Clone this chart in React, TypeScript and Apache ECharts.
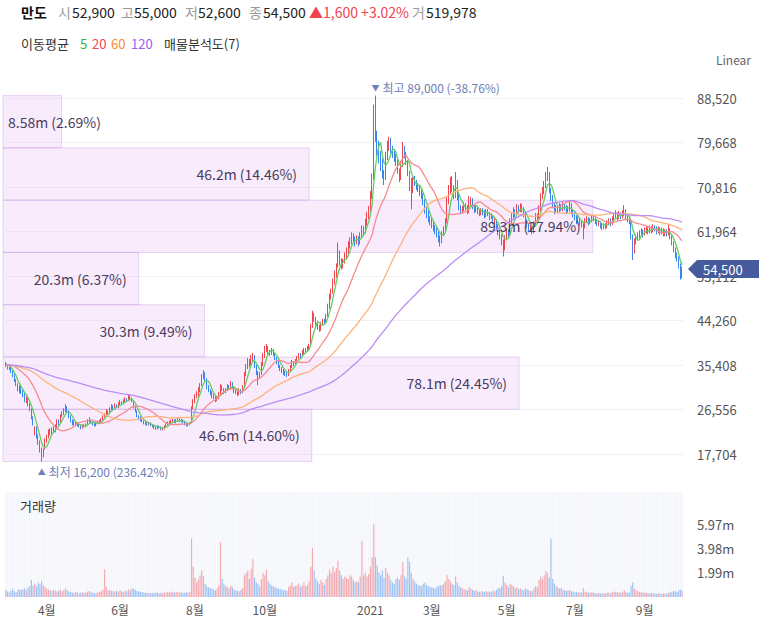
import React, { useEffect, useRef } from 'react';
import * as echarts from 'echarts';

// ---- DATA ----
const stockName = '만도';
const lastVolume = 519978;

// daily candles [open, close, low, high] in units of 100 won
const ohlc: number[][] = [
[356,354,350,360],[352,348,345,356],[346,352,344,354],[350,340,338,351],[342,333,330,345],[334,322,320,336],[320,318,312,326],[316,305,302,318],[302,310,298,314],[310,300,296,312],
[298,296,290,304],[296,284,280,298],[282,288,278,292],[286,276,272,290],[272,268,262,278],[266,250,246,268],[248,238,234,252],[220,228,214,232],[226,214,208,232],[210,200,195,216],
[198,186,180,204],[180,172,162,190],[174,185,170,188],[188,205,186,208],[206,210,200,215],[212,222,208,226],[224,218,214,228],[216,226,212,230],[228,224,220,232],[222,232,220,236],
[234,240,230,246],[242,238,234,246],[240,252,238,256],[254,258,250,262],[258,262,254,268],[264,270,260,276],[270,262,258,272],[262,250,248,264],[250,243,240,254],[244,238,234,246],
[236,240,234,244],[240,235,232,242],[234,237,232,240],[236,232,230,238],[232,230,226,234],[230,234,228,236],[234,232,230,236],[232,236,230,238],[236,242,234,246],[242,245,240,250],
[244,240,238,246],[240,236,234,242],[236,234,232,238],[234,238,232,240],[238,240,236,243],[240,242,238,245],[242,246,240,248],[246,252,244,254],[252,256,250,258],[256,262,254,266],
[262,258,256,264],[258,266,256,270],[266,272,264,276],[272,268,264,274],[268,274,266,278],[274,270,268,276],[270,276,268,280],[276,280,274,284],[280,278,274,282],[278,282,276,286],
[282,286,280,290],[286,284,280,288],[284,290,282,294],[290,288,284,295],[288,282,280,290],[280,270,268,282],[270,262,260,272],[262,252,250,264],[252,248,244,254],[248,246,242,252],
[246,242,240,248],[242,240,236,244],[240,238,235,242],[238,236,233,240],[236,238,234,241],[238,234,232,240],[234,232,230,236],[232,230,227,234],[230,228,225,232],[228,232,226,234],
[232,230,228,234],[230,226,224,232],[226,228,224,231],[228,232,226,234],[232,236,230,238],[236,240,234,242],[240,238,236,243],[238,242,236,245],[242,244,240,247],[244,240,238,246],
[240,244,238,246],[244,246,242,249],[246,242,240,248],[242,245,240,247],[244,240,238,246],[240,236,234,242],[236,234,232,238],[234,236,232,238],[236,238,234,240],[240,268,238,272],
[270,280,266,286],[282,290,278,296],[292,296,288,302],[296,305,292,310],[306,312,300,318],[314,330,312,336],[332,338,326,344],[338,326,322,340],[324,310,306,328],[310,304,300,314],
[304,298,294,306],[298,292,288,302],[292,290,286,296],[290,284,280,292],[284,288,282,292],[288,296,286,300],[296,310,294,316],[310,306,302,314],[306,300,296,308],[300,304,298,308],
[304,312,302,316],[312,308,304,314],[308,318,306,322],[318,310,306,320],[310,302,298,312],[302,300,296,306],[300,296,292,302],[296,304,294,308],[304,300,296,306],[300,310,298,314],
[312,336,310,340],[336,350,332,356],[350,362,346,368],[362,356,350,366],[356,368,354,374],[368,372,362,378],[372,352,348,374],[350,340,334,354],[340,328,314,342],[330,335,326,340],
[336,355,334,360],[356,372,352,378],[372,385,368,392],[386,390,380,396],[390,380,376,392],[380,378,372,384],[378,384,374,388],[384,376,372,386],[376,368,364,378],[368,360,356,370],
[360,352,348,362],[352,346,342,354],[346,344,338,350],[344,340,334,346],[340,336,332,342],[336,334,330,340],[334,342,332,346],[342,350,340,354],[350,360,348,364],[360,356,352,362],
[356,362,354,366],[362,368,360,372],[368,374,366,378],[374,372,368,378],[372,380,370,384],[380,384,376,388],[384,382,378,388],[382,388,380,392],[388,390,384,396],[392,430,390,436],
[432,455,428,462],[455,446,440,458],[446,438,432,450],[438,430,424,442],[430,424,420,434],[424,436,422,440],[436,442,432,446],[442,440,434,446],[440,452,438,456],[452,470,450,476],
[470,490,466,496],[490,500,484,506],[500,520,496,526],[520,535,514,542],[535,550,528,556],[552,575,548,598],[575,560,552,582],[560,552,544,566],[552,560,546,566],[560,572,556,578],
[572,580,566,588],[580,592,574,600],[592,600,586,608],[600,610,594,618],[610,605,598,616],[604,598,590,610],[598,606,594,612],[606,598,590,610],[598,612,594,618],[612,625,606,632],
[625,620,612,630],[620,638,616,645],[638,650,632,658],[650,662,644,670],[662,690,658,700],[690,725,684,735],[728,860,722,872],[860,805,798,890],[805,790,770,820],[790,770,755,800],
[770,760,740,780],[758,735,725,765],[735,725,712,742],[726,770,722,778],[770,790,762,800],[790,800,780,808],[800,782,775,806],[782,775,766,790],[775,768,758,782],[768,760,750,774],
[760,740,735,764],[740,725,718,745],[726,752,722,760],[752,785,748,798],[785,772,765,790],[772,760,752,778],[760,735,730,762],[735,720,700,740],[720,700,664,726],[700,725,696,730],
[725,718,710,730],[718,710,702,722],[710,705,698,716],[705,700,690,712],[700,692,684,704],[692,680,672,696],[680,660,655,684],[660,655,646,668],[655,645,638,662],[645,640,632,650],
[640,635,626,646],[635,628,620,640],[628,622,614,632],[622,618,608,628],[618,608,598,620],[608,600,590,612],[600,615,596,620],[615,625,610,630],[625,640,620,646],[640,680,636,690],
[680,700,674,712],[700,725,694,728],[725,705,698,730],[705,690,684,712],[690,715,686,738],[715,690,682,722],[690,668,662,694],[668,660,654,672],[660,665,656,670],[665,672,660,678],
[672,668,662,676],[668,660,654,672],[660,675,656,690],[675,682,670,688],[682,670,664,686],[670,662,656,674],[662,668,658,672],[668,660,654,670],[660,655,650,664],[655,662,652,666],
[662,658,652,666],[658,652,646,662],[652,660,648,664],[660,655,650,664],[655,648,642,658],[648,650,644,656],[650,640,634,652],[640,642,634,648],[642,630,624,644],[630,620,612,634],
[620,612,604,624],[612,600,592,614],[600,585,570,604],[585,608,582,612],[608,620,602,626],[620,615,608,624],[615,640,612,646],[640,650,635,656],[650,660,644,668],[660,655,648,664],
[655,668,650,674],[668,662,656,672],[662,670,658,676],[670,665,658,674],[665,655,648,668],[655,640,634,658],[640,632,626,644],[632,625,618,636],[625,628,620,634],[628,620,614,632],
[620,635,616,640],[635,650,630,656],[650,648,642,656],[648,665,644,672],[665,690,660,696],[690,700,684,708],[700,712,694,720],[712,728,706,738],[728,735,720,748],[735,700,696,738],
[700,688,680,706],[688,672,666,692],[672,660,654,676],[660,668,656,672],[668,662,656,672],[662,670,658,676],[670,665,660,674],[665,672,660,678],[672,668,662,676],[668,660,654,672],
[660,665,656,670],[665,672,660,680],[672,660,654,676],[660,655,648,664],[655,648,642,658],[648,640,634,652],[640,645,636,650],[645,638,632,648],[638,635,628,642],[610,630,604,636],
[630,640,626,646],[640,645,636,650],[645,638,632,648],[638,642,634,646],[642,648,638,652],[648,645,640,652],[645,640,634,648],[640,635,630,644],[635,638,630,642],[638,632,626,640],
[632,628,622,636],[628,632,624,636],[632,630,624,636],[630,638,626,642],[638,642,634,646],[642,636,630,646],[636,645,632,650],[645,650,640,656],[650,655,646,662],[655,648,642,658],
[648,655,644,660],[655,650,644,658],[650,656,646,662],[656,660,650,672],[660,648,642,664],[648,645,638,652],[645,640,634,648],[640,610,604,642],[610,580,563,614],[580,600,576,606],
[600,608,594,614],[608,612,602,618],[612,618,606,622],[618,620,612,626],[620,615,608,624],[615,622,612,628],[622,625,616,630],[625,620,614,628],[620,626,616,632],[626,622,616,630],
[622,628,618,634],[628,626,620,632],[626,620,614,630],[620,625,616,630],[625,618,612,628],[618,622,614,628],[622,615,610,626],[615,620,610,624],[620,616,610,624],[616,622,612,635],
[622,610,604,626],[610,598,592,612],[598,585,578,600],[585,572,566,588],[572,568,560,578],[568,552,546,570],[552,529,524,556],[529,545,526,550]
];

// daily volume, in units of 10,000 shares
const volumes: number[] = [
60,45,38,52,70,48,40,55,62,58, 65,72,55,80,90,142,95,110,88,120,
105,130,98,85,70,62,55,48,60,52, 45,50,62,48,55,70,58,45,40,38,
35,42,38,30,36,40,33,38,45,50, 40,36,30,34,38,42,48,65,230,85,
55,60,52,48,45,50,42,58,46,40, 52,48,62,55,70,68,58,50,45,42,
40,38,35,32,36,34,30,35,33,38, 30,36,32,40,38,42,35,45,40,38,
42,40,36,38,35,33,40,36,42,485, 250,160,120,145,180,220,175,110,90,80,
75,68,60,55,70,95,455,150,110,90, 85,70,95,80,60,55,50,48,60,75,
180,200,220,150,230,313,160,120,110,90, 150,200,180,224,130,110,95,90,80,75,
70,65,60,55,58,50,80,95,120,85, 90,100,110,85,95,120,90,100,130,250,
406,220,150,130,110,140,120,100,150,180, 230,200,250,210,240,300,220,180,150,170,
160,150,180,170,140,120,130,120,170,464, 180,200,170,190,250,330,600,330,260,200,
180,220,160,240,200,180,140,120,110,150, 160,140,180,290,170,150,330,290,200,150,
130,110,100,95,90,110,120,100,90,85, 80,75,70,85,90,95,100,110,130,180,
150,130,110,100,170,120,90,80,70,65, 60,55,80,70,60,50,55,45,42,48,
45,40,50,42,48,40,55,45,60,70, 75,90,177,120,100,80,110,100,90,70,
80,65,70,60,55,70,65,55,50,48, 70,90,80,140,170,150,180,218,200,160,
484,150,110,90,80,70,75,60,55,50, 55,60,48,45,40,42,38,40,36,70,
45,40,38,35,42,36,32,30,34,28, 30,32,28,35,38,30,40,45,42,36,
38,35,40,55,42,36,38,90,120,70, 55,48,42,40,36,38,35,32,30,34,
30,28,26,30,28,25,30,28,26,35, 40,45,48,50,42,55,60,52
];

// closes before the visible window (100 won units), only used for the moving averages
const priorCloses: number[] = [
360,362,358,355,357,361,364,366,363,360,
358,355,352,350,353,356,359,362,365,368,
370,367,364,361,358,356,359,362,360,357,
354,351,348,350,353,356,358,355,352,349,
347,345,348,351,354,357,360,358,355,352,
350,348,346,349,352,355,353,350,347,345,
343,346,349,352,355,358,356,353,350,348,
346,344,347,350,353,356,359,357,354,351,
349,347,345,348,351,354,357,360,358,355,
352,350,348,351,354,357,359,356,353,350,
348,346,349,352,355,358,361,359,356,353,
351,349,352,355,357,356,358,357,356
];

const monthTickIdx = [24, 67, 111, 152, 214, 250, 294, 334, 375];
const monthTickLabels = ['4월', '6월', '8월', '10월', '2021', '3월', '5월', '7월', '9월'];

// volume profile (매물분석도), bottom bin → top bin
const profileVolumesM = [46.6, 78.1, 30.3, 20.3, 89.3, 46.2, 8.58];
const profilePercents = [14.60, 24.45, 9.49, 6.37, 27.94, 14.46, 2.69];

const maPeriods = [5, 20, 60, 120];
const maLegendColors = ['#33b533', '#f0434f', '#fb8a2e', '#9a5cf5'];
const maLineColors = ['#62cc62', '#f58a8f', '#fdb27a', '#b98cf6'];

const priceTickStep = 8852;
const volumeTickStep = 1990000;

// ---- STYLE ----
const FONT = '"Noto Sans CJK KR", "Noto Sans", sans-serif';
const UP = '#f0464f';
const DOWN = '#3a86f0';
const fmt = (n: number) => Math.round(n).toLocaleString('en-US');

export default function App() {
  const ref = useRef<HTMLDivElement>(null);

  useEffect(() => {
    document.body.style.margin = '0';
    const el = ref.current!;
    const chart = echarts.init(el, null, { renderer: 'svg' });

    const candles = ohlc.map(([o, c, l, h]) => [o * 100, c * 100, l * 100, h * 100]);
    const closes = candles.map((d) => d[1]);
    const allCloses = [...priorCloses.map((v) => v * 100), ...closes];
    const P = priorCloses.length;
    const mas = maPeriods.map((n) =>
      closes.map((_, i) => {
        let s = 0;
        for (let k = P + i - n + 1; k <= P + i; k++) s += allCloses[k];
        return s / n;
      })
    );
    const cats = candles.map((_, i) => String(i));

    let hiIdx = 0, loIdx = 0;
    candles.forEach((d, i) => {
      if (d[3] > candles[hiIdx][3]) hiIdx = i;
      if (d[2] < candles[loIdx][2]) loIdx = i;
    });
    const maxHigh = candles[hiIdx][3];
    const minLow = candles[loIdx][2];
    const last = candles[candles.length - 1];
    const prev = candles[candles.length - 2];
    const lastClose = last[1];
    const diff = lastClose - prev[1];
    const diffPct = (diff / prev[1]) * 100;
    const hiPct = ((lastClose - maxHigh) / maxHigh) * 100;
    const loPct = ((lastClose - minLow) / minLow) * 100;

    const binH = (maxHigh - minLow) / profileVolumesM.length;
    const profileData = profileVolumesM.map((v, k) => [minLow + k * binH, minLow + (k + 1) * binH, v, profilePercents[k]]);

    const volData = volumes.map((v, i) => ({
      value: v * 10000,
      itemStyle: { color: candles[i][1] >= candles[i][0] ? 'rgba(240,70,79,0.42)' : 'rgba(58,134,240,0.45)' },
    }));

    const tickMap = new Map<number, string>();
    monthTickIdx.forEach((i, k) => tickMap.set(i, monthTickLabels[k]));

    const priceGrid = { left: 5, right: 76, top: 53.5, height: 445 };

    const option: any = {
      animation: false,
      grid: [
        priceGrid,
        { left: 5, right: 76, top: 492, height: 105 },
        priceGrid,
      ],
      xAxis: [
        { type: 'category', gridIndex: 0, data: cats, show: false },
        {
          type: 'category', gridIndex: 1, data: cats,
          axisLine: { show: false }, axisTick: { show: false },
          axisLabel: {
            interval: (i: number) => tickMap.has(i),
            formatter: (_v: string, i: number) => tickMap.get(i) ?? '',
            color: '#555', fontSize: 12, fontFamily: FONT, margin: 6,
          },
        },
        { type: 'value', gridIndex: 2, min: 0, max: 103, show: false },
      ],
      yAxis: [
        {
          type: 'value', gridIndex: 0, position: 'right', min: priceTickStep, max: priceTickStep * 11,
          interval: priceTickStep,
          axisLine: { show: false }, axisTick: { show: false },
          splitLine: { show: true, showMinLine: false, showMaxLine: false, lineStyle: { color: '#f1f1f3', width: 1 } },
          axisLabel: {
            margin: 14, color: '#555', fontSize: 13, fontFamily: FONT,
            formatter: (v: number) => (v <= priceTickStep + 1 || v >= priceTickStep * 11 - 1 ? '' : fmt(v)),
          },
        },
        {
          type: 'value', gridIndex: 1, position: 'right', min: 0, max: 8700000, interval: volumeTickStep,
          axisLine: { show: false }, axisTick: { show: false }, splitLine: { show: false },
          axisLabel: {
            margin: 14, color: '#555', fontSize: 13, fontFamily: FONT,
            formatter: (v: number) => (v > 1000000 && v < 6500000 ? (v / 1000000).toFixed(2) + 'm' : ''),
          },
        },
        { type: 'value', gridIndex: 2, min: priceTickStep, max: priceTickStep * 11, show: false },
      ],
      series: [
        {
          type: 'custom', name: 'profileBoxes', xAxisIndex: 2, yAxisIndex: 2, z: 1, silent: true,
          encode: { x: 2, y: [0, 1] },
          data: profileData,
          renderItem: (_p: any, api: any) => {
            const lo = api.value(0), hi = api.value(1), v = api.value(2);
            const a = api.coord([0, hi]);
            const b = api.coord([v, lo]);
            return {
              type: 'rect',
              shape: { x: a[0] - 2, y: a[1], width: b[0] - a[0] + 2, height: b[1] - a[1] },
              style: { fill: 'rgba(222,170,242,0.22)', stroke: 'rgba(196,150,226,0.38)', lineWidth: 1 },
            };
          },
        },
        {
          type: 'candlestick', xAxisIndex: 0, yAxisIndex: 0, data: candles, z: 3, barWidth: '55%',
          itemStyle: { color: UP, color0: DOWN, borderColor: UP, borderColor0: DOWN, borderWidth: 1 },
          markPoint: {
            symbol: 'circle', symbolSize: 0, silent: true,
            data: [
              {
                coord: [hiIdx, maxHigh],
                label: {
                  show: true, position: 'top', distance: 2, align: 'left', offset: [-4, 0],
                  color: '#6f80b6', fontSize: 12, fontFamily: FONT,
                  formatter: `{t|▼}최고 ${fmt(maxHigh)} (${hiPct.toFixed(2)}%)`,
                  rich: { t: { fontSize: 8, color: '#6f80b6', padding: [0, 3, 0, 0] } },
                },
              },
              {
                coord: [loIdx, minLow],
                label: {
                  show: true, position: 'bottom', distance: 4, align: 'left', offset: [-4, 0],
                  color: '#6f80b6', fontSize: 12, fontFamily: FONT,
                  formatter: `{t|▲}최저 ${fmt(minLow)} (${loPct.toFixed(2)}%)`,
                  rich: { t: { fontSize: 8, color: '#6f80b6', padding: [0, 3, 0, 0] } },
                },
              },
            ],
          },
        },
        ...mas.map((d, k) => ({
          type: 'line', xAxisIndex: 0, yAxisIndex: 0, data: d, showSymbol: false, silent: true, z: 4,
          lineStyle: { width: 1.3, color: maLineColors[k] },
        })),
        {
          type: 'custom', name: 'profileLabels', xAxisIndex: 2, yAxisIndex: 2, z: 6, silent: true,
          encode: { x: 2, y: [0, 1] },
          data: profileData,
          renderItem: (_p: any, api: any) => {
            const lo = api.value(0), hi = api.value(1), v = api.value(2), pct = api.value(3);
            const b = api.coord([v, (lo + hi) / 2]);
            const text = `${v}m (${pct.toFixed(2)}%)`;
            const right = b[0] - 12;
            const est = text.length * 6.8;
            const leftAlign = right - est < 8;
            return {
              type: 'text', x: leftAlign ? 8 : right, y: b[1],
              style: {
                text, fill: '#4a3b5c', fontSize: 14, fontFamily: FONT,
                align: leftAlign ? 'left' : 'right', verticalAlign: 'middle',
              },
            };
          },
        },
        {
          type: 'bar', xAxisIndex: 1, yAxisIndex: 1, data: volData, barWidth: '72%', silent: true,
          showBackground: true, backgroundStyle: { color: '#f3f5fa' },
        },
      ],
    };

    chart.setOption(option);

    const yTag = chart.convertToPixel({ yAxisIndex: 0 }, lastClose) as number;

    const headerItems = [
      { x: 21, text: stockName, color: '#111', bold: true },
      { x: 58, text: '시', color: '#9a9a9a' },
      { x: 72, text: fmt(last[0]), color: '#222' },
      { x: 121, text: '고', color: '#9a9a9a' },
      { x: 134, text: fmt(last[3]), color: '#222' },
      { x: 185, text: '저', color: '#9a9a9a' },
      { x: 198, text: fmt(last[2]), color: '#222' },
      { x: 249, text: '종', color: '#9a9a9a' },
      { x: 263, text: fmt(lastClose), color: '#222' },
      { x: 309, text: `${diff >= 0 ? '▲' : '▼'}${fmt(Math.abs(diff))} ${diff >= 0 ? '+' : ''}${diffPct.toFixed(2)}%`, color: '#f0434f' },
      { x: 412, text: '거', color: '#9a9a9a' },
      { x: 426, text: fmt(lastVolume), color: '#222' },
    ];
    const legendItems = [
      { x: 21, text: '이동평균', color: '#333' },
      { x: 80, text: String(maPeriods[0]), color: maLegendColors[0] },
      { x: 92, text: String(maPeriods[1]), color: maLegendColors[1] },
      { x: 111, text: String(maPeriods[2]), color: maLegendColors[2] },
      { x: 131, text: String(maPeriods[3]), color: maLegendColors[3] },
      { x: 164, text: `매물분석도(${profileVolumesM.length})`, color: '#333' },
    ];

    const graphics: any[] = [
      ...headerItems.map((h, i) => ({
        type: 'text', id: 'h' + i, x: h.x, y: 12, z: 100,
        style: { text: h.text, fill: h.color, fontSize: 14, fontFamily: FONT, fontWeight: (h as any).bold ? 'bold' : 'normal', verticalAlign: 'middle' },
      })),
      ...legendItems.map((h, i) => ({
        type: 'text', id: 'l' + i, x: h.x, y: 43, z: 100,
        style: { text: h.text, fill: h.color, fontSize: 13, fontFamily: FONT, verticalAlign: 'middle' },
      })),
      {
        type: 'text', id: 'linear', x: 716, y: 59, z: 100,
        style: { text: 'Linear', fill: '#666', fontSize: 12, fontFamily: FONT, verticalAlign: 'middle' },
      },
      {
        type: 'text', id: 'volTitle', x: 20, y: 505, z: 100,
        style: { text: '거래량', fill: '#333', fontSize: 13, fontFamily: FONT, verticalAlign: 'middle' },
      },
      {
        type: 'polygon', id: 'tag', z: 120,
        shape: { points: [[688, yTag], [697, yTag - 9], [759, yTag - 9], [759, yTag + 9], [697, yTag + 9]] },
        style: { fill: '#465b9c' },
      },
      {
        type: 'text', id: 'tagText', z: 121, x: 703, y: yTag,
        style: { text: fmt(lastClose), fill: '#fff', fontSize: 13, fontFamily: FONT, verticalAlign: 'middle' },
      },
    ];
    chart.setOption({ graphic: graphics });

    return () => chart.dispose();
  }, []);

  return <div ref={ref} style={{ width: 759, height: 620 }} />;
}
